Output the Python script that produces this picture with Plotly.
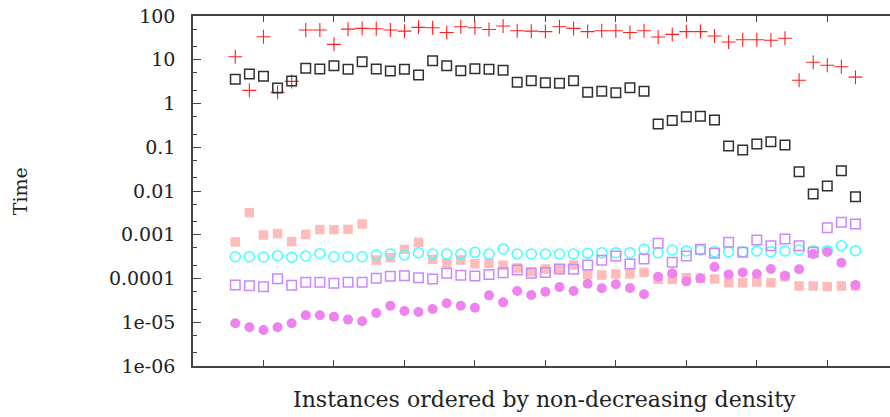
import plotly.graph_objects as go

instances = list(range(3, 48))

red_plus = [11.7, 2.0, 33.6, 1.8, 3.2, 48, 48, 22.5, 50, 52, 51, 48, 45, 55, 54, 42, 57, 54, 49, 59,
            46, 45, 44, 57, 52, 44, 46, 46, 42, 46, 33, 38, 44, 44, 35, 25.5, 28.7, 28.7, 27.8, 31,
            3.4, 8.8, 7.5, 6.9, 4.0]
black_sq = [3.57, 4.72, 4.19, 2.26, 3.27, 6.38, 6.15, 7.31, 6.05, 9.02, 6.15, 5.53, 6.05, 4.48, 9.51,
            7.31, 5.62, 6.24, 6.05, 5.74, 3.05, 3.32, 2.99, 2.90, 3.32, 1.80, 1.90, 1.77, 2.30, 1.90,
            0.340, 0.408, 0.499, 0.510, 0.420, 0.107, 0.0865, 0.119, 0.134, 0.1125,
            0.0276, 0.00853, 0.0130, 0.0291, 0.00741]
pink_sq = [6.83e-4, 3.20e-3, 9.87e-4, 1.06e-3, 6.95e-4, 1.02e-3, 1.31e-3, 1.31e-3, 1.33e-3, 1.76e-3,
           2.65e-4, 2.99e-4, 4.65e-4, 6.71e-4, 2.74e-4, 2.22e-4, 2.65e-4, 2.18e-4, 2.22e-4, 2.0e-4,
           1.74e-4, 1.43e-4, 1.65e-4, 1.65e-4, 2.04e-4, 1.24e-4, 1.20e-4, 1.27e-4, 1.27e-4, 1.38e-4,
           9.57e-5, 9.57e-5, 1.04e-4, 1.01e-4, 9.75e-5, 8.02e-5, 8.02e-5, 8.32e-5, 8.02e-5, 1.1e-4,
           6.74e-5, 6.74e-5, 6.52e-5, 6.74e-5, 6.74e-5]
cyan_circ = [3.15e-4, 3.15e-4, 3.10e-4, 3.33e-4, 3.05e-4, 3.27e-4, 3.70e-4, 3.15e-4, 3.15e-4, 3.15e-4,
             3.44e-4, 3.63e-4, 3.44e-4, 3.89e-4, 3.63e-4, 3.63e-4, 3.63e-4, 3.96e-4, 3.63e-4, 4.72e-4,
             3.63e-4, 3.63e-4, 3.63e-4, 3.63e-4, 3.63e-4, 3.76e-4, 3.89e-4, 3.89e-4, 3.89e-4, 4.65e-4,
             3.89e-4, 4.48e-4, 4.25e-4, 4.48e-4, 4.10e-4, 4.10e-4, 4.10e-4, 4.25e-4, 4.10e-4, 4.25e-4,
             4.48e-4, 4.33e-4, 4.33e-4, 5.62e-4, 4.33e-4]
purple_sq = [7.10e-5, 6.86e-5, 6.50e-5, 9.91e-5, 7.0e-5, 8.18e-5, 8.18e-5, 7.76e-5, 8.18e-5, 8.18e-5,
             1.01e-4, 1.12e-4, 1.16e-4, 1.04e-4, 9.75e-5, 1.31e-4, 1.18e-4, 1.14e-4, 1.24e-4, 1.36e-4,
             1.56e-4, 1.31e-4, 1.38e-4, 1.65e-4, 1.62e-4, 2.04e-4, 2.61e-4, 3.27e-4, 2.14e-4, 2.79e-4,
             6.37e-4, 2.34e-4, 3.27e-4, 4.65e-4, 3.76e-4, 6.71e-4, 3.96e-4, 7.59e-4, 5.62e-4, 8.0e-4,
             5.62e-4, 3.96e-4, 1.45e-3, 1.92e-3, 1.76e-3]
magenta_circ = [9.46e-6, 7.66e-6, 6.65e-6, 7.66e-6, 9.46e-6, 1.44e-5, 1.44e-5, 1.34e-5, 1.15e-5, 1.05e-5,
                1.63e-5, 2.39e-5, 1.81e-5, 1.71e-5, 2.01e-5, 2.71e-5, 2.39e-5, 2.15e-5, 4.12e-5, 2.85e-5,
                5.18e-5, 4.2e-5, 5.0e-5, 6.4e-5, 5.18e-5, 7.6e-5, 5.97e-5, 7.36e-5, 6.07e-5, 4.35e-5,
                1.10e-4, 1.31e-4, 8.61e-5, 1.01e-4, 1.83e-4, 1.24e-4, 1.38e-4, 1.27e-4, 1.65e-4, 1.16e-4,
                1.62e-4, 3.63e-4, 4.04e-4, 2.30e-4, 7.1e-5]

y_tickvals = [1e-6, 1e-5, 1e-4, 1e-3, 1e-2, 1e-1, 1, 10, 100]
y_ticktext = ["1e-06", "1e-05", "0.0001", "0.001", "0.01", "0.1", "1", "10", "100"]
y_minor = [m * 10.0 ** e for e in range(-6, 2) for m in (2, 5)]
x_tickvals = [5, 10, 15, 20, 25, 30, 35, 40, 45]

FONT = "DejaVu Serif"

fig = go.Figure()
fig.add_trace(go.Scatter(x=instances, y=red_plus, mode="markers",
                         marker=dict(symbol="cross-thin-open", size=10, color="#ff2020",
                                     line=dict(color="#ff2020", width=1.1))))
fig.add_trace(go.Scatter(x=instances, y=black_sq, mode="markers",
                         marker=dict(symbol="square-open", size=9.5, color="#303030",
                                     line=dict(color="#303030", width=1.5))))
fig.add_trace(go.Scatter(x=instances, y=pink_sq, mode="markers",
                         marker=dict(symbol="square", size=9.5, color="#ffbaba", line=dict(width=0))))
fig.add_trace(go.Scatter(x=instances, y=cyan_circ, mode="markers",
                         marker=dict(symbol="circle-open", size=10, color="#40ffff",
                                     line=dict(color="#40ffff", width=1.5))))
fig.add_trace(go.Scatter(x=instances, y=purple_sq, mode="markers",
                         marker=dict(symbol="square-open", size=9.5, color="#c888ff",
                                     line=dict(color="#c888ff", width=1.5))))
fig.add_trace(go.Scatter(x=instances, y=magenta_circ, mode="markers",
                         marker=dict(symbol="circle", size=10, color="#ee82ee", line=dict(width=0))))

fig.update_layout(
    width=890, height=417,
    margin=dict(l=193, r=0, t=16, b=51),
    paper_bgcolor="white", plot_bgcolor="white",
    showlegend=False,
    font=dict(family=FONT, size=19, color="#222"),
    xaxis=dict(range=[0, 49.45], tickvals=x_tickvals, showticklabels=False,
               ticks="inside", ticklen=6, tickwidth=1.3, tickcolor="#444",
               showline=True, linecolor="#444", linewidth=1.6, mirror="ticks",
               showgrid=False, zeroline=False),
    yaxis=dict(type="log", range=[-6, 2], tickvals=y_tickvals, ticktext=y_ticktext,
               ticks="inside", ticklen=8, tickwidth=1.3, tickcolor="#444",
               showline=True, linecolor="#444", linewidth=1.6,
               showgrid=False, zeroline=False, ticklabelstandoff=12,
               tickfont=dict(family=FONT, size=19, color="#222"),
               minor=dict(tickvals=y_minor, ticks="inside", ticklen=4, tickcolor="#444",
                          tickwidth=1.2, showgrid=False)),
    annotations=[
        dict(text="Time", xref="paper", yref="paper", x=-0.248, y=0.5, xanchor="center",
             yanchor="middle", textangle=-90, showarrow=False,
             font=dict(family=FONT, size=19, color="#222")),
        dict(text="Instances ordered by non-decreasing density", xref="paper", yref="paper",
             x=0.505, y=-0.097, xanchor="center", yanchor="middle", showarrow=False,
             font=dict(family=FONT, size=22, color="#222")),
    ],
)

fig.write_html("out.html")
